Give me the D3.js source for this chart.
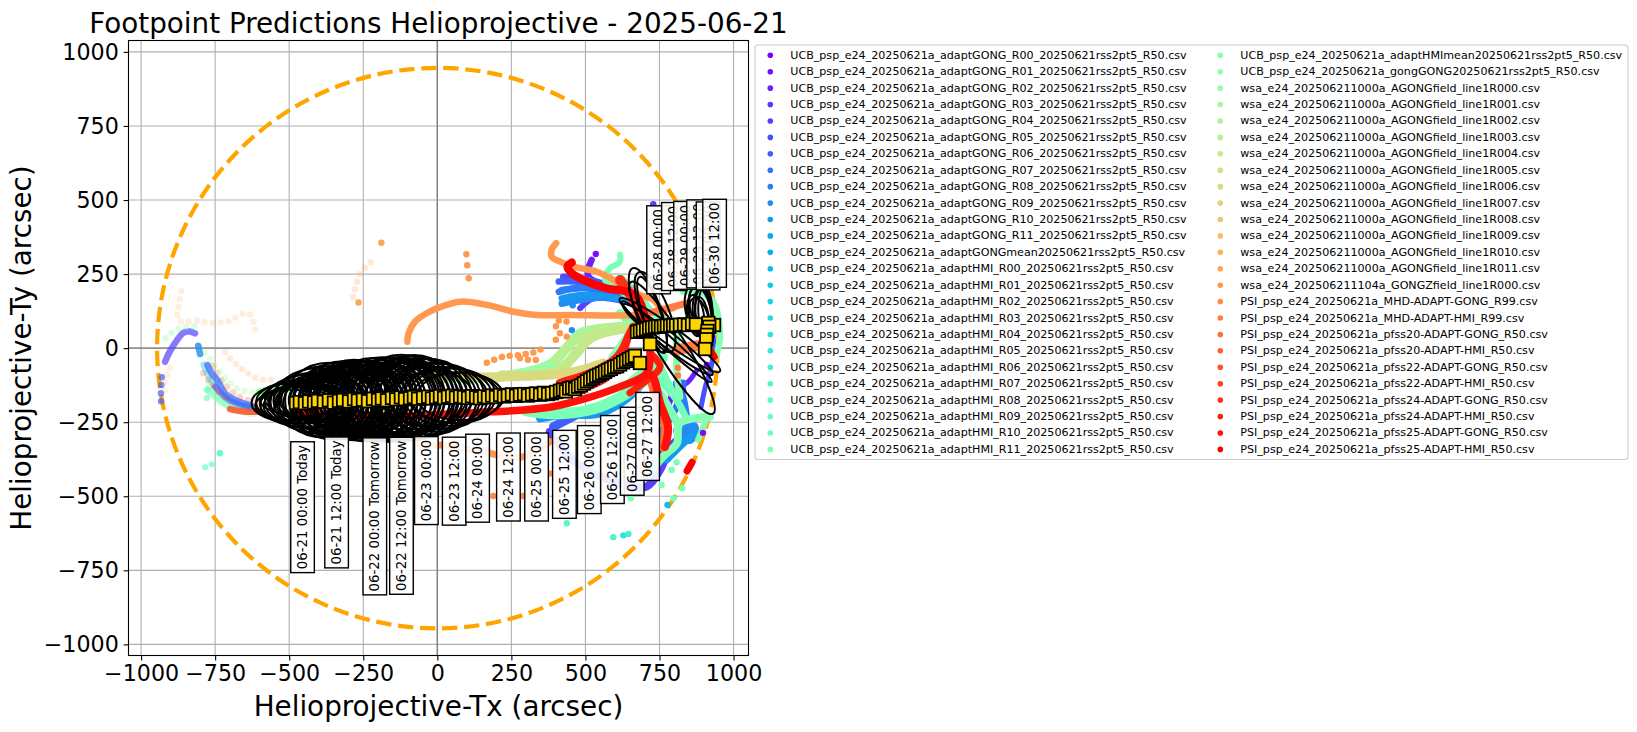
<!DOCTYPE html>
<html>
<head>
<meta charset="utf-8">
<title>Footpoint Predictions</title>
<script src="https://cdn.jsdelivr.net/npm/d3@7/dist/d3.min.js"></script>
<style>
body { margin: 0; background: #fff; }
text { font-family: "DejaVu Sans", sans-serif; fill: #000; }
</style>
</head>
<body>
<svg id="chart" width="1637" height="732"></svg>
<script>
'use strict';

var chartTitle = 'Footpoint Predictions Helioprojective - 2025-06-21';
var xAxisLabel = 'Helioprojective-Tx (arcsec)';
var yAxisLabel = 'Helioprojective-Ty (arcsec)';
var axisTicks = [-1000, -750, -500, -250, 0, 250, 500, 750, 1000];
var solarLimbRadius = 946;

var seriesNames = [
    'UCB_psp_e24_20250621a_adaptGONG_R00_20250621rss2pt5_R50.csv',
    'UCB_psp_e24_20250621a_adaptGONG_R01_20250621rss2pt5_R50.csv',
    'UCB_psp_e24_20250621a_adaptGONG_R02_20250621rss2pt5_R50.csv',
    'UCB_psp_e24_20250621a_adaptGONG_R03_20250621rss2pt5_R50.csv',
    'UCB_psp_e24_20250621a_adaptGONG_R04_20250621rss2pt5_R50.csv',
    'UCB_psp_e24_20250621a_adaptGONG_R05_20250621rss2pt5_R50.csv',
    'UCB_psp_e24_20250621a_adaptGONG_R06_20250621rss2pt5_R50.csv',
    'UCB_psp_e24_20250621a_adaptGONG_R07_20250621rss2pt5_R50.csv',
    'UCB_psp_e24_20250621a_adaptGONG_R08_20250621rss2pt5_R50.csv',
    'UCB_psp_e24_20250621a_adaptGONG_R09_20250621rss2pt5_R50.csv',
    'UCB_psp_e24_20250621a_adaptGONG_R10_20250621rss2pt5_R50.csv',
    'UCB_psp_e24_20250621a_adaptGONG_R11_20250621rss2pt5_R50.csv',
    'UCB_psp_e24_20250621a_adaptGONGmean20250621rss2pt5_R50.csv',
    'UCB_psp_e24_20250621a_adaptHMI_R00_20250621rss2pt5_R50.csv',
    'UCB_psp_e24_20250621a_adaptHMI_R01_20250621rss2pt5_R50.csv',
    'UCB_psp_e24_20250621a_adaptHMI_R02_20250621rss2pt5_R50.csv',
    'UCB_psp_e24_20250621a_adaptHMI_R03_20250621rss2pt5_R50.csv',
    'UCB_psp_e24_20250621a_adaptHMI_R04_20250621rss2pt5_R50.csv',
    'UCB_psp_e24_20250621a_adaptHMI_R05_20250621rss2pt5_R50.csv',
    'UCB_psp_e24_20250621a_adaptHMI_R06_20250621rss2pt5_R50.csv',
    'UCB_psp_e24_20250621a_adaptHMI_R07_20250621rss2pt5_R50.csv',
    'UCB_psp_e24_20250621a_adaptHMI_R08_20250621rss2pt5_R50.csv',
    'UCB_psp_e24_20250621a_adaptHMI_R09_20250621rss2pt5_R50.csv',
    'UCB_psp_e24_20250621a_adaptHMI_R10_20250621rss2pt5_R50.csv',
    'UCB_psp_e24_20250621a_adaptHMI_R11_20250621rss2pt5_R50.csv',
    'UCB_psp_e24_20250621a_adaptHMImean20250621rss2pt5_R50.csv',
    'UCB_psp_e24_20250621a_gongGONG20250621rss2pt5_R50.csv',
    'wsa_e24_202506211000a_AGONGfield_line1R000.csv',
    'wsa_e24_202506211000a_AGONGfield_line1R001.csv',
    'wsa_e24_202506211000a_AGONGfield_line1R002.csv',
    'wsa_e24_202506211000a_AGONGfield_line1R003.csv',
    'wsa_e24_202506211000a_AGONGfield_line1R004.csv',
    'wsa_e24_202506211000a_AGONGfield_line1R005.csv',
    'wsa_e24_202506211000a_AGONGfield_line1R006.csv',
    'wsa_e24_202506211000a_AGONGfield_line1R007.csv',
    'wsa_e24_202506211000a_AGONGfield_line1R008.csv',
    'wsa_e24_202506211000a_AGONGfield_line1R009.csv',
    'wsa_e24_202506211000a_AGONGfield_line1R010.csv',
    'wsa_e24_202506211000a_AGONGfield_line1R011.csv',
    'wsa_e24_202506211104a_GONGZfield_line1R000.csv',
    'PSI_psp_e24_20250621a_MHD-ADAPT-GONG_R99.csv',
    'PSI_psp_e24_20250621a_MHD-ADAPT-HMI_R99.csv',
    'PSI_psp_e24_20250621a_pfss20-ADAPT-GONG_R50.csv',
    'PSI_psp_e24_20250621a_pfss20-ADAPT-HMI_R50.csv',
    'PSI_psp_e24_20250621a_pfss22-ADAPT-GONG_R50.csv',
    'PSI_psp_e24_20250621a_pfss22-ADAPT-HMI_R50.csv',
    'PSI_psp_e24_20250621a_pfss24-ADAPT-GONG_R50.csv',
    'PSI_psp_e24_20250621a_pfss24-ADAPT-HMI_R50.csv',
    'PSI_psp_e24_20250621a_pfss25-ADAPT-GONG_R50.csv',
    'PSI_psp_e24_20250621a_pfss25-ADAPT-HMI_R50.csv'
];

// footpoint tracks, [Tx, Ty] in arcsec
var farLimbPale = [[-864, 192], [-874, 95], [-846, 90], [-807, 93], [-779, 86], [-734, 86], [-700, 93], [-666, 112], [-638, 118], [-621, 90], [-612, 48]];
var farLimbHook = [[-919, -46], [-905, -15], [-878, 28], [-857, 52], [-835, 56], [-818, 50]];
var farLimbShort = [[-807, 8], [-801, -20]];
var farLimbBlue = [[-776, -57], [-762, -85], [-743, -107], [-717, -152], [-683, -175], [-627, -195]];
var farLimbNavy = [[-750, -130], [-700, -175], [-630, -200]];
var farLimbTeal = [[-776, -141], [-756, -158], [-722, -186], [-677, -203], [-621, -214]];
var farLimbDrop = [[-776, -141], [-778, -170], [-776, -192]];
var farLimbCyan = [[-790, -55], [-770, -100], [-735, -150], [-700, -180], [-640, -200]];
var farLimbRust = [[-700, -206], [-655, -214], [-600, -214]];
var farLimbPink = [[-790, -85], [-773, -107], [-734, -152], [-700, -180]];
var farLimbRose = [[-760, -60], [-720, -120], [-670, -165], [-600, -185]];
var farLimbGreen = [[-801, 5], [-756, -51], [-711, -107], [-666, -141], [-598, -152]];
var farLimbSage = [[-770, -120], [-730, -170], [-680, -205], [-620, -220]];
var farLimbPeach = [[-716, -13], [-694, -40], [-666, -65], [-643, -83], [-610, -102], [-582, -107], [-542, -105]];
var farLimbEdge = [[-930, -98], [-933, -175], [-928, -203]];
var farLimbMint = [[-917, 33], [-880, 64], [-857, 70], [-821, 73]];
var farLimbLowTeal = [[-784, -402], [-767, -394], [-743, -387]];
var farLimbSalmon = [[-902, -65], [-919, -107], [-919, -147]];
var centreFaint = [[-284, 172], [-259, 254], [-217, 296]];

var fanPurple = [[521, 298], [510, 242], [662, 185]];
var fanIndigo = [[482, 135], [527, 168], [639, 157]];
var fanViolet = [[425, 241], [515, 230], [662, 180]];
var fanRoyal = [[410, 225], [470, 225], [560, 212], [650, 175]];
var fanCobalt = [[410, 190], [480, 205], [560, 190], [655, 165]];
var fanBlue = [[420, 196], [572, 202], [673, 163]];
var fanSky = [[420, 150], [500, 165], [580, 170], [660, 150]];
var fanAzure = [[420, 168], [504, 180], [662, 157]];
var lowerBlue = [[347, -237], [437, -225], [549, -220], [662, -152], [730, -60]];
var blueSpur = [[392, -265], [470, -225]];
var underLabelBlue = [[380, -282], [470, -389], [617, -456], [707, -467], [752, -411], [790, -330], [836, -293]];
var rightBlue = [[809, -118], [830, -174], [847, -299]];
var rightPurple = [[809, -118], [786, -175], [752, -377]];
var notchPurple = [[797, -141], [842, -118], [876, -74]];
var notchBlue = [[831, -118], [808, -197], [752, -287]];
var tailBlue = [[876, -287], [831, -321], [775, -377]];
var blueBlob = [[820, -280], [850, -300], [860, -270]];
var limbBlue = [[925, 60], [935, 10], [925, -60], [905, -130], [890, -200]];
var innerBlue = [[812, -107], [829, -141]];

var lowerGreen = [[300, -212], [392, -222], [527, -205], [617, -166], [684, -120], [728, -84], [760, -30]];
var cornerGreen = [[920, -232], [819, -253], [809, -321], [775, -354], [720, -400]];
var riseGreen = [[809, -250], [752, -151], [700, -80]];
var diagGreen = [[729, -85], [808, -175], [842, -242]];
var tailGreen = [[775, -355], [729, -411], [707, -434]];
var spurGreen = [[910, -236], [880, -310]];
var upperGreen = [[617, 240], [684, 173], [728, 119], [770, 95]];
var shoulderGreen = [[617, 197], [667, 163]];
var collarGreen = [[617, 119], [661, 72]];
var limbGreen = [[830, 190], [890, 190], [935, 150], [954, 38], [940, -30]];
var stemGreen = [[808, 60], [809, -84], [819, -164]];
var innerGreen = [[590, -30], [640, 40], [672, 90]];
var crownGreen = [[617, 315], [615, 290], [583, 270], [566, 230], [650, 180]];
var slantGreen = [[627, -130], [708, -63], [728, -30]];
var crossGreen = [[741, -39], [796, -151]];

var wsaGreen = [[-598, -152], [-300, -100], [-100, -100], [217, -96], [380, -55], [437, 0], [482, 50], [640, 73], [720, 75]];
var wsaLime = [[217, -92], [400, -75], [470, -20], [520, 40], [650, 70]];
var wsaSand = [[400, -40], [455, 20], [530, 60], [662, 73]];
var wsaGold = [[217, -90], [415, -75], [470, -12], [527, 38], [650, 68]];
var wsaOrange = [[-250, -90], [223, -97], [438, -84], [560, -50]];

var psiArc = [[-101, 22], [-97, 50], [-75, 90], [-36, 118], [0, 135], [77, 157], [167, 146], [257, 123], [335, 112], [448, 112], [662, 112], [797, 135]];
var psiHook = [[401, 354], [386, 332], [386, 309], [414, 292], [470, 273], [538, 258], [617, 219], [684, 180], [729, 163], [763, 118]];
var psiCurl = [[400, 28], [414, 50], [397, 84], [420, 95], [448, 84]];
var psiDrift = [[167, -49], [223, -29], [279, -23], [313, -17], [347, -6], [352, 13]];
var psiDriftLow = [[279, -34], [313, -40], [335, -40]];
var psiRightBar = [[808, -6], [887, 10]];
var psiUpperBar = [[718, 119], [843, 152]];
var hiddenPeach = [[-58, -332], [9, -327], [150, -350], [285, -368], [380, -316]];
var lowerOrange = [[720, -100], [745, -190], [770, -270], [760, -335]];

var redHook = [[454, 289], [439, 275], [454, 253], [504, 225], [572, 202], [639, 191], [673, 174], [700, 110], [708, 38]];
var redUpper = [[617, 230], [674, 140], [708, 38]];
var redRise = [[505, -131], [573, -97], [617, -40], [644, 38], [661, 72]];
var redMiddle = [[414, -117], [539, -74], [607, -29], [640, 27]];
var redMain = [[-480, -214], [-300, -225], [-130, -228], [178, -215], [289, -209], [392, -197], [504, -169], [617, -130], [707, -85], [718, -16]];
var redLoop = [[718, -16], [752, -63], [708, -107], [650, -151]];
var redLower = [[707, -85], [728, -97], [752, -185], [779, -266], [769, -333]];
var redLimb = [[937, -30], [925, -10]];
var redEdge = [[860, -385], [843, -415]];

// single dots that stand apart from the tracks, [Tx, Ty, series]
var looseDots = [
    [98, 317, 39], [101, 280, 39], [106, 236, 39], [-189, 356, 38], [535, 318, 1], [457, 145, 9], [454, 61, 9],
    [437, 39, 39], [729, 486, 4], [808, -385, 24], [791, -411, 24], [757, -462, 24], [827, -473, 24], [797, -507, 23],
    [653, -507, 24], [437, -591, 21], [594, -638, 20], [628, -632, 17], [645, -627, 19], [777, -529, 13],
    [189, -499, 40], [290, -499, 40], [380, -423, 40], [9, -327, 40], [-734, -355, 22], [897, -286, 1],
    [910, -57, 1], [-266, 154, 38], [812, -92, 41], [812, -66, 41]
];

// footpoint positions, gold squares
var trackTx = [
    -477, -464, -447, -433, -416, -403, -383, -366, -349, -332, -318, -298, -281, -268, -251, -234, -217, -200, -187,
    -170, -153, -139, -123, -109, -92, -79, -65, -48, -31, -18, -4, 9, 23, 36, 50, 63, 77,
    90, 104, 117, 131, 144, 158, 171, 185, 198, 212, 225, 238, 252, 266, 279, 293, 306, 320, 333, 347, 360, 374, 387,
    401, 414, 424, 434, 445, 455, 465, 475, 485, 495, 505, 516, 526, 536, 546, 556, 566, 576, 586, 597, 607, 617, 627,
    637, 647, 657, 667, 684, 674, 684, 694, 705, 718, 715, 725, 735, 745, 755, 765, 775, 786, 796, 806, 819, 833, 846,
    860, 873, 934, 915, 918, 912, 910, 908, 904
];
var trackTy = [
    -185, -182, -186, -180, -183, -178, -181, -176, -184, -178, -175, -180, -172, -177, -174, -179, -171, -175, -170,
    -176, -168, -173, -166, -172, -169, -165, -171, -167, -164, -170, -166, -162, -168, -164, -161, -167, -163,
    -165, -168, -162, -166, -169, -163, -166, -160, -165, -158, -163, -160, -156, -161, -157, -155, -160, -156, -153,
    -157, -151, -155, -152, -148, -144, -140, -146, -136, -133, -138, -130, -126, -119, -112, -106, -100, -94, -90,
    -85, -80, -74, -70, -64, -61, -55, -48, -43, -37, -32, -26, -50, 55, 58, 61, 64, 14, 68, 70, 72, 74, 72, 75, 76,
    75, 78, 77, 79, 80, 78, 82, 80, 78, 85, 72, 58, 45, 30, -3
];

// uncertainty rings around the early footpoints, semi-axes in arcsec
var ringRx = [
    150, 148, 151, 149, 147, 150, 152, 148, 149, 151, 150, 147, 149, 152, 148, 150, 151, 149, 147, 150, 152, 148, 149,
    151, 150, 147, 149, 150, 148, 151, 149, 150, 147, 149, 148, 150, 146
];
var ringRy = [
    67, 72, 80, 90, 100, 110, 120, 127, 125, 129, 131, 128, 133, 135, 132, 136, 138, 134, 139, 141, 137, 142, 144,
    140, 143, 142, 136, 134, 128, 122, 116, 110, 104, 98, 92, 86, 80
];
var ringRxMiddle = [
    138, 135, 140, 136, 133, 139, 137, 134, 140, 136, 132, 138, 135, 141, 133, 137, 139, 134, 136, 132, 140, 135, 138,
    133, 137, 134, 139, 136, 132, 138
];
var ringRyMiddle = [
    56, 60, 66, 74, 82, 90, 98, 106, 110, 115, 112, 118, 114, 120, 116, 122, 118, 124, 120, 126, 121, 124, 128,
    122, 126, 120, 114, 108, 100, 92
];
var ringRxInner = [
    122, 118, 125, 120, 116, 124, 119, 122, 117, 125, 120, 116, 123, 118, 121, 125, 117, 120
];
var ringRyInner = [
    44, 50, 56, 60, 66, 72, 78, 86, 90, 94, 92, 98, 94, 100, 96, 102, 98, 104
];

// stretched rings close to the limb: centre, semi-axes, tilt in degrees
var limbRingTx = [792, 778, 775, 785, 711, 725, 735, 887, 895, 880, 900, 890, 872, 905, 884, 896];
var limbRingTy = [1, 29, 22, 44, 129, 112, 122, 122, 118, 128, 112, 135, 110, 125, 105, 100];
var limbRingMajor = [262, 192, 203, 209, 150, 135, 145, 85, 80, 88, 92, 76, 70, 82, 66, 74];
var limbRingMinor = [48, 26, 20, 30, 42, 30, 46, 38, 32, 42, 30, 36, 28, 24, 30, 22];
var limbRingTilt = [58, 38, 42, 36, 70, 72, 68, 80, 84, 78, 86, 76, 82, 88, 74, 80];

var dateLabels = [
    '06-21 00:00 Today', '06-21 12:00 Today', '06-22 00:00 Tomorrow', '06-22 12:00 Tomorrow', '06-23 00:00',
    '06-23 12:00', '06-24 00:00', '06-24 12:00', '06-25 00:00', '06-25 12:00', '06-26 00:00', '06-26 12:00',
    '06-27 00:00', '06-27 12:00', '06-28 00:00', '06-28 12:00', '06-29 00:00', '06-29 12:00', '06-30 00:00',
    '06-30 12:00'
];
var dateLabelTx = [-455, -340, -211, -121, -37, 57, 136, 240, 335, 429, 513, 591, 658, 710, 747, 797, 838, 882, 914, 936];
var dateLabelTy = [-537, -521, -568, -566, -447, -449, -439, -435, -435, -426, -410, -376, -348, -298, 332, 343, 347, 352, 345, 354];

var ringSets = [
    { rx: ringRx, ry: ringRy, tilt: 0 },
    { rx: ringRxMiddle, ry: ringRyMiddle, tilt: -5 },
    { rx: ringRxInner, ry: ringRyInner, tilt: 5 }
];

var trackTable = [
    { points: farLimbEdge, series: 6, width: 6.5, alpha: 0.7, dotted: true },
    { points: farLimbRose, series: 44, width: 7, alpha: 0.25, dotted: true },
    { points: farLimbSage, series: 28, width: 8, alpha: 0.4 },
    { points: farLimbGreen, series: 28, width: 6.5, alpha: 0.3, dotted: true },
    { points: farLimbTeal, series: 24, width: 7, alpha: 0.6 },
    { points: farLimbDrop, series: 22, width: 6.5, alpha: 0.6, dotted: true },
    { points: farLimbCyan, series: 14, width: 6, alpha: 0.4 },
    { points: farLimbHook, series: 4, width: 6.5, alpha: 0.7 },
    { points: farLimbShort, series: 9, width: 6.5, alpha: 0.8 },
    { points: farLimbNavy, series: 3, width: 6, alpha: 0.55 },
    { points: farLimbBlue, series: 7, width: 6.5, alpha: 0.75 },
    { points: fanPurple, series: 2, width: 6.5 },
    { points: fanIndigo, series: 4, width: 6 },
    { points: fanViolet, series: 5, width: 6.5 },
    { points: fanRoyal, series: 6, width: 6.5 },
    { points: fanCobalt, series: 7, width: 6.5 },
    { points: underLabelBlue, series: 4, width: 8 },
    { points: rightPurple, series: 1, width: 6 },
    { points: notchPurple, series: 2, width: 5 },
    { points: limbBlue, series: 5, width: 5 },
    { points: blueSpur, series: 6, width: 9 },
    { points: fanBlue, series: 8, width: 6.5 },
    { points: rightBlue, series: 8, width: 8 },
    { points: notchBlue, series: 7, width: 7 },
    { points: innerBlue, series: 6, width: 7 },
    { points: blueBlob, series: 9, width: 14 },
    { points: fanSky, series: 9, width: 6.5 },
    { points: fanAzure, series: 10, width: 6.5 },
    { points: lowerBlue, series: 10, width: 8 },
    { points: tailBlue, series: 10, width: 7 },
    { points: farLimbLowTeal, series: 22, width: 6, alpha: 0.7, dotted: true },
    { points: tailGreen, series: 22, width: 6 },
    { points: diagGreen, series: 23, width: 7 },
    { points: lowerGreen, series: 24, width: 11 },
    { points: riseGreen, series: 24, width: 8 },
    { points: upperGreen, series: 24, width: 7 },
    { points: shoulderGreen, series: 24, width: 8 },
    { points: collarGreen, series: 24, width: 8 },
    { points: slantGreen, series: 24, width: 7 },
    { points: crossGreen, series: 24, width: 7 },
    { points: cornerGreen, series: 25, width: 8 },
    { points: spurGreen, series: 25, width: 6 },
    { points: limbGreen, series: 25, width: 6.5 },
    { points: stemGreen, series: 25, width: 7 },
    { points: innerGreen, series: 25, width: 7 },
    { points: crownGreen, series: 24, width: 6 },
    { points: farLimbMint, series: 26, width: 6.5, alpha: 0.35, dotted: true },
    { points: wsaGreen, series: 27, width: 10 },
    { points: wsaLime, series: 29, width: 9 },
    { points: wsaSand, series: 30, width: 9 },
    { points: wsaGold, series: 31, width: 9 },
    { points: wsaOrange, series: 33, width: 9 },
    { points: farLimbPale, series: 38, width: 6.5, alpha: 0.2, dotted: true },
    { points: centreFaint, series: 38, width: 6.5, alpha: 0.25, dotted: true },
    { points: farLimbSalmon, series: 38, width: 6.5, alpha: 0.2, dotted: true },
    { points: farLimbPeach, series: 39, width: 6.5, alpha: 0.2, dotted: true },
    { points: psiArc, series: 39, width: 6.5 },
    { points: psiHook, series: 39, width: 6.5 },
    { points: psiCurl, series: 39, width: 6.5, dotted: true },
    { points: psiDrift, series: 39, width: 6.5, dotted: true },
    { points: psiDriftLow, series: 39, width: 6.5, dotted: true },
    { points: hiddenPeach, series: 39, width: 7 },
    { points: psiUpperBar, series: 41, width: 7 },
    { points: psiRightBar, series: 41, width: 11 },
    { points: lowerOrange, series: 42, width: 9 },
    { points: farLimbPink, series: 44, width: 6.5, alpha: 0.25, dotted: true },
    { points: farLimbRust, series: 44, width: 6.5, alpha: 0.85 },
    { points: redUpper, series: 46, width: 10 },
    { points: redRise, series: 47, width: 8 },
    { points: redMiddle, series: 47, width: 8 },
    { points: redLoop, series: 47, width: 7 },
    { points: redLower, series: 48, width: 8 },
    { points: redMain, series: 48, width: 7.5 },
    { points: redHook, series: 49, width: 8 },
    { points: redLimb, series: 49, width: 6 },
    { points: redEdge, series: 49, width: 7 }
];

var axisFont = 22.2;
var margin = { left: 128.5, right: 748.5, top: 40.5, bottom: 655.5 };

var svg = d3.select('#chart');
var x = d3.scaleLinear().domain([-1042.5, 1050.5]).range([margin.left, margin.right]);
var y = d3.scaleLinear().domain([-1037.5, 1038.5]).range([margin.bottom, margin.top]);

// matplotlib rainbow colormap, which the original legend runs through
function seriesColor(index) {
    var t = index / (seriesNames.length - 1);
    var r = Math.min(1, Math.abs(2 * t - 0.5));
    var g = Math.sin(Math.PI * t);
    var b = Math.cos(Math.PI * t / 2);
    return d3.rgb(r * 255, g * 255, b * 255).formatHex();
}

svg.append('clipPath').attr('id', 'plotClip').append('rect')
    .attr('x', margin.left).attr('y', margin.top)
    .attr('width', margin.right - margin.left).attr('height', margin.bottom - margin.top);

var grid = svg.append('g');
grid.selectAll('line.gx').data(axisTicks).enter().append('line')
    .attr('x1', function (d) { return x(d); }).attr('x2', function (d) { return x(d); })
    .attr('y1', margin.top).attr('y2', margin.bottom)
    .attr('stroke', '#b0b0b0').attr('stroke-width', 1.1);
grid.selectAll('line.gy').data(axisTicks).enter().append('line')
    .attr('y1', function (d) { return y(d); }).attr('y2', function (d) { return y(d); })
    .attr('x1', margin.left).attr('x2', margin.right)
    .attr('stroke', '#b0b0b0').attr('stroke-width', 1.1);
grid.append('line').attr('x1', x(0)).attr('x2', x(0)).attr('y1', margin.top).attr('y2', margin.bottom)
    .attr('stroke', '#808080').attr('stroke-width', 1.4);
grid.append('line').attr('y1', y(0)).attr('y2', y(0)).attr('x1', margin.left).attr('x2', margin.right)
    .attr('stroke', '#808080').attr('stroke-width', 1.4);

var plot = svg.append('g').attr('clip-path', 'url(#plotClip)');

plot.append('ellipse')
    .attr('cx', x(0)).attr('cy', y(0))
    .attr('rx', x(solarLimbRadius) - x(0)).attr('ry', y(0) - y(solarLimbRadius))
    .attr('fill', 'none').attr('stroke', 'orange').attr('stroke-width', 4.2)
    .attr('stroke-dasharray', '15.4 6.7');

var trackLine = d3.line()
    .curve(d3.curveCatmullRom.alpha(0.5))
    .x(function (d) { return x(d[0]); })
    .y(function (d) { return y(d[1]); });

plot.selectAll('path.track').data(trackTable).enter().append('path')
    .attr('class', 'track')
    .attr('d', function (d) { return trackLine(d.points); })
    .attr('fill', 'none')
    .attr('stroke', function (d) { return seriesColor(d.series); })
    .attr('stroke-width', function (d) { return d.width; })
    .attr('stroke-opacity', function (d) { return d.alpha === undefined ? 1 : d.alpha; })
    .attr('stroke-linecap', 'round')
    .attr('stroke-linejoin', 'round')
    .attr('stroke-dasharray', function (d) { return d.dotted ? '0 ' + (d.width + 1.5) : null; });

plot.selectAll('circle.loose').data(looseDots).enter().append('circle')
    .attr('class', 'loose')
    .attr('cx', function (d) { return x(d[0]); })
    .attr('cy', function (d) { return y(d[1]); })
    .attr('r', 3.2)
    .attr('fill', function (d) { return seriesColor(d[2]); });

var ringStroke = 2;
ringSets.forEach(function (set) {
    plot.append('g').selectAll('ellipse').data(set.rx).enter().append('ellipse')
        .attr('transform', function (d, i) {
            return 'translate(' + x(trackTx[i]) + ',' + y(trackTy[i]) + ') rotate(' + set.tilt + ')';
        })
        .attr('rx', function (d) { return x(d) - x(0); })
        .attr('ry', function (d, i) { return y(0) - y(set.ry[i]); })
        .attr('fill', 'none').attr('stroke', '#000').attr('stroke-width', ringStroke);
});

plot.selectAll('ellipse.limbRing').data(limbRingTx).enter().append('ellipse')
    .attr('class', 'limbRing')
    .attr('transform', function (d, i) {
        return 'translate(' + x(d) + ',' + y(limbRingTy[i]) + ') rotate(' + limbRingTilt[i] + ')';
    })
    .attr('rx', function (d, i) { return x(limbRingMajor[i]) - x(0); })
    .attr('ry', function (d, i) { return x(limbRingMinor[i]) - x(0); })
    .attr('fill', 'none').attr('stroke', '#000').attr('stroke-width', ringStroke);

var squareSize = 12.5;
plot.selectAll('rect.foot').data(trackTx).enter().append('rect')
    .attr('class', 'foot')
    .attr('x', function (d) { return x(d) - squareSize / 2; })
    .attr('y', function (d, i) { return y(trackTy[i]) - squareSize / 2; })
    .attr('width', squareSize).attr('height', squareSize)
    .attr('fill', 'gold').attr('stroke', '#000').attr('stroke-width', 1.8);

// spines, ticks and tick labels
var xAxis = d3.axisBottom(x).tickValues(axisTicks).tickFormat(d3.format('d')).tickSize(4.9).tickPadding(4.8);
var yAxis = d3.axisLeft(y).tickValues(axisTicks).tickFormat(d3.format('d')).tickSize(4.9).tickPadding(4.8);
var gx = svg.append('g').attr('transform', 'translate(0,' + margin.bottom + ')').call(xAxis);
var gy = svg.append('g').attr('transform', 'translate(' + margin.left + ',0)').call(yAxis);
[gx, gy].forEach(function (g) {
    g.select('.domain').remove();
    g.selectAll('.tick line').attr('stroke', '#000').attr('stroke-width', 1.1);
    g.selectAll('.tick text').style('font-size', axisFont + 'px').attr('font-family', null);
});
svg.append('rect')
    .attr('x', margin.left).attr('y', margin.top)
    .attr('width', margin.right - margin.left).attr('height', margin.bottom - margin.top)
    .attr('fill', 'none').attr('stroke', '#000').attr('stroke-width', 1.1);

// date callouts
var callouts = svg.selectAll('g.callout').data(dateLabels).enter().append('g')
    .attr('class', 'callout')
    .attr('transform', function (d, i) {
        return 'translate(' + x(dateLabelTx[i]) + ',' + y(dateLabelTy[i]) + ') rotate(-90)';
    });
callouts.each(function (d) {
    var g = d3.select(this);
    var box = g.append('rect');
    var label = g.append('text').text(d)
        .attr('text-anchor', 'middle').attr('dominant-baseline', 'central')
        .style('font-size', '13.33px');
    var b = label.node().getBBox();
    box.attr('x', b.x - 3.3).attr('y', -11.8)
        .attr('width', b.width + 6.6).attr('height', 23.6)
        .attr('fill', '#fff').attr('fill-opacity', 0.9)
        .attr('stroke', '#000').attr('stroke-width', 1.4);
});

svg.append('text').text(chartTitle)
    .attr('x', (margin.left + margin.right) / 2).attr('y', 33)
    .attr('text-anchor', 'middle').style('font-size', '27.8px');
svg.append('text').text(xAxisLabel)
    .attr('x', (margin.left + margin.right) / 2).attr('y', 716)
    .attr('text-anchor', 'middle').style('font-size', '27.8px');
svg.append('text').text(yAxisLabel)
    .attr('transform', 'translate(31,' + (margin.top + margin.bottom) / 2 + ') rotate(-90)')
    .attr('text-anchor', 'middle').style('font-size', '27.8px');

// legend, two columns
var legendRows = 25;
var legendRowStep = 16.42;
var legend = svg.append('g');
legend.append('rect')
    .attr('x', 755).attr('y', 45).attr('width', 873).attr('height', 414.5).attr('rx', 3)
    .attr('fill', '#fff').attr('stroke', '#ccc').attr('stroke-width', 1.1);
var legendRow = legend.selectAll('g.entry').data(seriesNames).enter().append('g')
    .attr('class', 'entry')
    .attr('transform', function (d, i) {
        var column = Math.floor(i / legendRows);
        return 'translate(' + (column === 0 ? 770.3 : 1220.3) + ',' + (55.3 + (i % legendRows) * legendRowStep) + ')';
    });
legendRow.append('circle').attr('r', 2.8)
    .attr('fill', function (d, i) { return seriesColor(i); });
legendRow.append('text').text(function (d) { return d; })
    .attr('x', 20).attr('dominant-baseline', 'central')
    .style('font-size', '11.1px');
</script>
</body>
</html>
